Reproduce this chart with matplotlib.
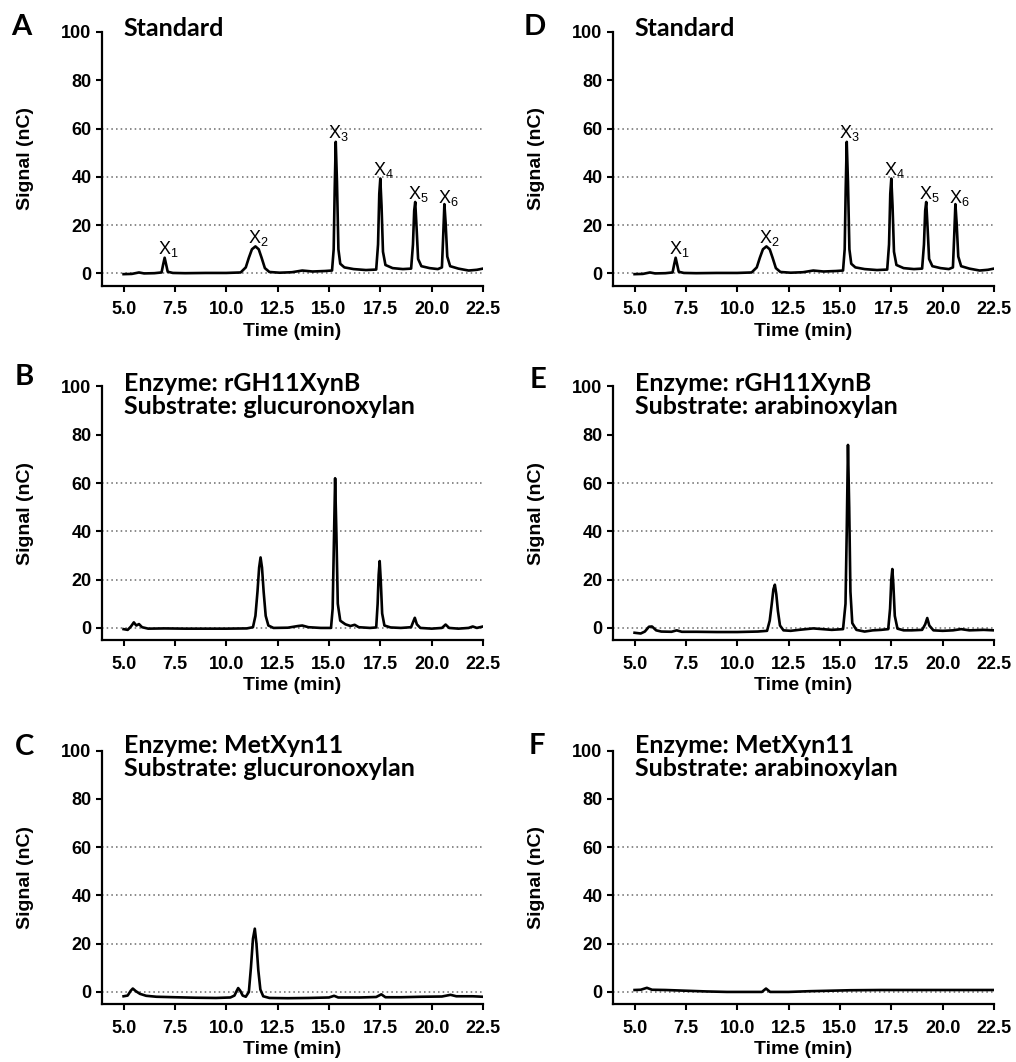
import matplotlib.pyplot as plt

plt.rcParams['font.family'] = ['Liberation Sans', 'DejaVu Sans']
plt.rcParams['mathtext.fontset'] = 'custom'
plt.rcParams['mathtext.rm'] = 'Liberation Sans'
plt.rcParams['mathtext.default'] = 'regular'

# --- chromatogram traces (time in min, signal in nC) ---
std_time = [5.0, 5.4, 5.75, 6.0, 6.5, 6.85, 6.93, 7.0, 7.07, 7.15, 7.4, 8.0, 9.0, 10.0,
            10.7, 10.95, 11.1, 11.25, 11.42, 11.58, 11.72, 11.88, 12.1, 12.6, 13.2, 13.7,
            14.2, 14.8, 15.15, 15.23, 15.28, 15.33, 15.39, 15.46, 15.55, 15.75, 16.2, 16.8,
            17.3, 17.39, 17.45, 17.5, 17.56, 17.63, 17.75, 18.1, 18.6, 19.0, 19.09, 19.15,
            19.2, 19.26, 19.34, 19.5, 19.9, 20.3, 20.5, 20.56, 20.62, 20.68, 20.76, 20.9,
            21.3, 21.8, 22.2, 22.5]
std_signal = [-0.3, -0.2, 0.4, 0.0, 0.1, 0.4, 3.8, 6.5, 3.8, 0.7, 0.2, 0.1, 0.2, 0.2,
              0.4, 2.5, 6.5, 10.0, 11.2, 10.0, 6.5, 2.2, 0.6, 0.3, 0.5, 1.2,
              0.8, 1.0, 1.2, 10.0, 35.0, 54.5, 38.0, 10.0, 4.0, 2.5, 1.8, 1.4,
              1.6, 12.0, 33.0, 39.3, 28.0, 9.0, 3.5, 2.2, 1.8, 2.0, 12.0, 26.0,
              29.6, 20.0, 6.0, 3.0, 2.2, 1.8, 2.5, 15.0, 28.7, 21.0, 7.0, 3.0,
              2.0, 1.2, 1.5, 2.0]

b_time = [5.0, 5.2, 5.35, 5.5, 5.62, 5.75, 5.9, 6.2, 7.0, 8.0, 9.0, 10.0, 11.0, 11.3,
          11.42, 11.52, 11.6, 11.67, 11.74, 11.82, 11.92, 12.05, 12.3, 13.0, 13.5, 13.7,
          14.0, 14.6, 15.1, 15.18, 15.24, 15.3, 15.36, 15.43, 15.55, 15.8, 16.05, 16.25,
          16.45, 17.0, 17.3, 17.37, 17.42, 17.47, 17.52, 17.59, 17.7, 18.0, 18.5, 19.0,
          19.1, 19.18, 19.28, 19.45, 20.0, 20.5, 20.68, 20.85, 21.3, 21.8, 22.0, 22.2, 22.5]
b_signal = [-0.5, -0.8, 0.5, 2.3, 1.0, 1.6, 0.3, -0.3, -0.2, -0.3, -0.3, -0.3, -0.2, 0.3,
            5.0, 15.0, 25.0, 29.2, 25.0, 15.0, 5.0, 1.0, 0.0, 0.1, 0.8, 1.0,
            0.3, 0.0, 0.0, 8.0, 35.0, 62.0, 40.0, 10.0, 3.0, 1.5, 0.8, 1.3,
            0.3, 0.0, 0.2, 10.0, 22.0, 27.7, 20.0, 6.0, 1.0, 0.2, 0.0, 0.3,
            2.5, 4.2, 1.5, 0.0, -0.3, 0.0, 1.4, 0.0, -0.3, 0.0, 0.6, 0.0, 0.6]

c_time = [5.0, 5.2, 5.35, 5.45, 5.6, 5.8, 6.1, 6.6, 7.5, 8.5, 9.5, 10.2, 10.4, 10.5,
          10.58, 10.68, 10.8, 10.95, 11.1, 11.2, 11.3, 11.39, 11.47, 11.56, 11.66, 11.8,
          12.1, 13.0, 14.0, 15.0, 15.25, 15.45, 16.5, 17.3, 17.55, 17.75, 18.5, 19.5,
          20.5, 20.92, 21.2, 22.0, 22.5]
c_signal = [-1.8, -1.5, 0.5, 1.4, 0.3, -0.8, -1.6, -2.0, -2.2, -2.4, -2.5, -2.3, -1.5, 0.3,
            1.6, 0.5, -1.5, -2.0, 0.0, 10.0, 22.0, 26.2, 20.0, 9.0, 1.0, -1.8,
            -2.5, -2.6, -2.5, -2.3, -1.6, -2.3, -2.3, -2.1, -1.0, -2.2, -2.2, -2.0,
            -1.9, -1.2, -1.8, -1.8, -2.0]

e_time = [5.0, 5.3, 5.5, 5.7, 5.85, 6.05, 6.3, 6.8, 7.05, 7.3, 8.0, 9.0, 10.0, 11.0,
          11.45, 11.58, 11.68, 11.76, 11.83, 11.9, 11.98, 12.08, 12.25, 12.6, 13.0, 13.7,
          14.0, 14.6, 15.15, 15.27, 15.33, 15.39, 15.45, 15.51, 15.6, 15.8, 16.2, 16.6,
          17.0, 17.35, 17.44, 17.5, 17.55, 17.6, 17.67, 17.8, 18.1, 18.5, 19.0, 19.15,
          19.25, 19.35, 19.55, 20.0, 20.5, 20.9, 21.3, 22.0, 22.5]
e_signal = [-2.0, -2.3, -1.5, 0.5, 0.6, -1.0, -1.5, -1.6, -1.0, -1.6, -1.6, -1.7, -1.7, -1.5,
            -1.2, 3.0, 10.0, 16.0, 17.9, 14.0, 7.0, 1.0, -1.0, -1.2, -0.8, -0.2,
            -0.4, -0.8, -0.5, 10.0, 40.0, 75.8, 50.0, 15.0, 2.0, -0.8, -1.5, -1.0,
            -0.8, -0.5, 8.0, 20.0, 24.4, 18.0, 5.0, -0.3, -1.0, -1.0, -0.8, 1.5,
            4.1, 1.0, -1.0, -1.2, -1.0, -0.5, -1.0, -0.8, -1.0]

f_time = [5.0, 5.3, 5.6, 5.85, 6.5, 7.5, 8.5, 9.5, 10.5, 11.2, 11.4, 11.6, 12.5, 13.5,
          14.5, 15.5, 17.0, 18.5, 20.0, 21.5, 22.5]
f_signal = [0.8, 0.9, 1.7, 0.9, 0.8, 0.5, 0.2, 0.0, 0.0, 0.0, 1.4, 0.0, 0.0, 0.3,
            0.5, 0.7, 0.8, 0.8, 0.8, 0.8, 0.8]

# peak labels of the xylo-oligosaccharide standard
std_labels = ['X$_1$', 'X$_2$', 'X$_3$', 'X$_4$', 'X$_5$', 'X$_6$']
std_label_x = [7.2, 11.57, 15.45, 17.67, 19.33, 20.8]
std_label_y = [10.0, 14.8, 58.3, 43.0, 33.0, 31.4]

x_ticks = [5.0, 7.5, 10.0, 12.5, 15.0, 17.5, 20.0, 22.5]
y_ticks = [0, 20, 40, 60, 80, 100]
grid_levels = [0, 20, 40, 60]

titles = {
    'A': ['Standard'],
    'B': ['Enzyme: rGH11XynB', 'Substrate: glucuronoxylan'],
    'C': ['Enzyme: MetXyn11', 'Substrate: glucuronoxylan'],
    'D': ['Standard'],
    'E': ['Enzyme: rGH11XynB', 'Substrate: arabinoxylan'],
    'F': ['Enzyme: MetXyn11', 'Substrate: arabinoxylan'],
}
traces = {
    'A': (std_time, std_signal), 'B': (b_time, b_signal), 'C': (c_time, c_signal),
    'D': (std_time, std_signal), 'E': (e_time, e_signal), 'F': (f_time, f_signal),
}

W, H = 1016, 1062
fig = plt.figure(figsize=(W / 100, H / 100), dpi=100)

col_left = {'A': 102, 'B': 102, 'C': 102, 'D': 613, 'E': 613, 'F': 613}
row_bottom = {'A': 285.5, 'B': 640, 'C': 1004, 'D': 285.5, 'E': 640, 'F': 1004}
letter_pos = {'A': (21, 27), 'B': (24, 377), 'C': (24, 747),
              'D': (535, 27), 'E': (538, 380), 'F': (537, 746)}
ax_w, ax_h = 381, 253.5

title_font = ['Lato', 'DejaVu Sans']

for key in ['A', 'B', 'C', 'D', 'E', 'F']:
    l = col_left[key] / W
    b = 1 - row_bottom[key] / H
    ax = fig.add_axes([l, b, ax_w / W, ax_h / H])
    t, s = traces[key]
    for g in grid_levels:
        ax.axhline(g, color='#8a8a8a', lw=1.4, ls=(0, (0.8, 1.6)), zorder=1)
    ax.plot(t, s, color='black', lw=1.9, zorder=3, solid_joinstyle='round')

    ax.set_xlim(3.95, 22.5)
    ax.set_ylim(-5, 100)
    ax.set_xticks(x_ticks)
    ax.set_xticklabels(['%.1f' % v for v in x_ticks])
    ax.set_yticks(y_ticks)
    for side in ['top', 'right']:
        ax.spines[side].set_visible(False)
    for side in ['left', 'bottom']:
        ax.spines[side].set_linewidth(1.6)
    ax.tick_params(axis='both', width=1.5, length=4.5, labelsize=13)
    ax.tick_params(axis='y', pad=3)
    ax.tick_params(axis='x', pad=7)
    for lab in ax.get_xticklabels() + ax.get_yticklabels():
        lab.set_fontweight('bold')
    ax.set_xlabel('Time (min)', fontsize=14, fontweight='bold', labelpad=3)
    ax.set_ylabel('Signal (nC)', fontsize=14, fontweight='bold', labelpad=20)

    lines = titles[key]
    y0 = 99.0 if key in 'CF' else 98.3
    for i, line in enumerate(lines):
        ax.text(5.0, y0 - 9.7 * i, line, ha='left', va='baseline', fontsize=18,
                fontweight='bold', family=title_font, clip_on=False)

    if key in 'AD':
        for lab, lx, ly in zip(std_labels, std_label_x, std_label_y):
            ax.text(lx, ly, lab, ha='center', va='center', fontsize=13, zorder=4)

    px, py = letter_pos[key]
    fig.text(px / W, 1 - py / H, key, ha='center', va='center', fontsize=21,
             fontweight='bold', family=title_font)

fig.savefig('out.png', dpi=100)
